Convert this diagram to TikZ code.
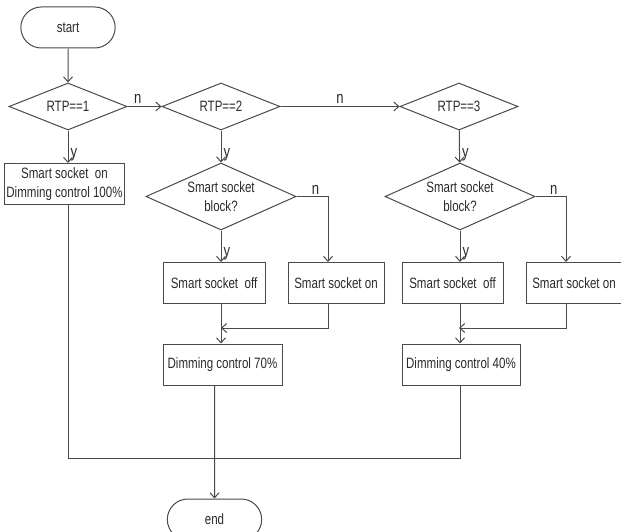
\documentclass[tikz,border=0pt]{standalone}
\usepackage{fontspec}
\setmainfont[FakeStretch=0.77]{Liberation Sans}
\usepackage{xcolor}
\usepackage{tikz}
\usetikzlibrary{positioning,arrows.meta,shapes.geometric,shapes.misc}
\definecolor{edge}{HTML}{4A4A4A}
\definecolor{ink}{HTML}{2A2A2A}

\begin{document}
\begin{tikzpicture}[
  x=1pt,y=-1pt,line width=1pt,draw=edge,text=ink,
  font=\fontsize{15}{19}\selectfont,>={Straight Barb[length=5pt,width=9pt]},
  term/.style={draw=edge,rounded rectangle,minimum width=101pt,minimum height=41pt},
  test/.style={draw=edge,diamond,aspect=2.5,inner sep=0pt,minimum width=118pt,minimum height=47pt},
  block/.style={draw=edge,diamond,aspect=2.2,inner sep=0pt,minimum width=150pt,minimum height=67pt,align=center},
  act/.style={draw=edge,rectangle,minimum height=41pt,inner sep=2pt,align=center},
  lab/.style={font=\fontsize{17}{17}\selectfont,inner sep=2pt},
]
\useasboundingbox (0,0) rectangle (621,532);
% start and the three tests
\node[term] (start) at (68,27.5) {start};
\node[test] (r1) at (68,106.5) {RTP==1};
\node[test] (r2) at (221,106.5) {RTP==2};
\node[test] (r3) at (459,106.5) {RTP==3};
\node[act,minimum width=119pt] (a1) at (64.5,184) {Smart socket\ \ on\\Dimming control 100\%};
% second column
\node[block] (d2) at (221,196.5) {Smart socket\\block?};
\node[act,minimum width=102pt] (off2) at (214,283) {Smart socket\ \ off};
\node[act,minimum width=96pt] (on2) at (336,283) {Smart socket on};
\node[act,minimum width=119pt] (dim2) at (222.5,364.5) {Dimming control 70\%};
% third column
\node[block] (d3) at (460,196.5) {Smart socket\\block?};
\node[act,minimum width=101pt] (off3) at (452.5,283) {Smart socket\ \ off};
\node[act,minimum width=96pt] (on3) at (574,283) {Smart socket on};
\node[act,minimum width=118pt] (dim3) at (461,364.5) {Dimming control 40\%};
\node[term] (end) at (214.5,519.5) {end};
\coordinate (m2) at (221,328);
\coordinate (m3) at (459,328);
\coordinate (j) at (68,458);
% connectors
\draw[->] (start) -- (r1);
\draw[->] (r1) -- (r2) node[lab,pos=0.3,above]{n};
\draw[->] (r2) -- (r3) node[lab,midway,above]{n};
\draw[->] (r1) -- (r1 |- a1.north) node[lab,near end,right]{y};
\draw[->] (r2) -- (d2) node[lab,near end,right]{y};
\draw[->] (r3) -- (d3) node[lab,near end,right]{y};
\draw[->] (d2) -- (d2 |- off2.north) node[lab,near end,right]{y};
\draw[->] (d3) -- (d3 |- off3.north) node[lab,near end,right]{y};
\draw[->] (d2.east) -| ([xshift=-8pt]on2.north) node[lab,pos=0.3,above]{n};
\draw[->] (d3.east) -| ([xshift=-8pt]on3.north) node[lab,pos=0.3,above]{n};
\draw[->] (d2 |- off2.south) -- (d2 |- dim2.north);
\draw[->] (d3 |- off3.south) -- (d3 |- dim3.north);
\draw[->] ([xshift=-8pt]on2.south) |- (m2);
\draw[->] ([xshift=-8pt]on3.south) |- (m3);
\draw (r1 |- a1.south) -- (j) -| (d3 |- dim3.south);
\draw[->] (end |- dim2.south) -- (end);
\end{tikzpicture}
\end{document}
